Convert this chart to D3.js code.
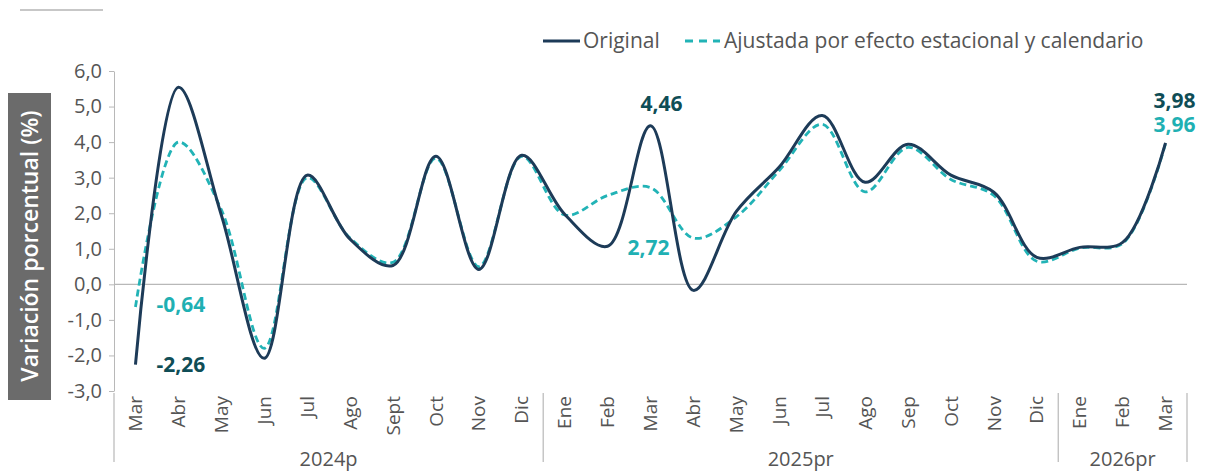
<!DOCTYPE html>
<html>
<head>
<meta charset="utf-8">
<script src="https://cdn.jsdelivr.net/npm/d3@7"></script>
<style>
  body { margin: 0; background: #fff; }
  svg { font-family: "Open Sans", sans-serif; }
</style>
</head>
<body>
<svg id="chart" width="1206" height="472"></svg>
<script>
// meses de marzo 2024 a marzo 2026
const meses = ['Mar','Abr','May','Jun','Jul','Ago','Sept','Oct','Nov','Dic',
  'Ene','Feb','Mar','Abr','May','Jun','Jul','Ago','Sep','Oct','Nov','Dic',
  'Ene','Feb','Mar'];
const anios = ['2024p', '2025pr', '2026pr'];
const mesesPorAnio = [10, 12, 3];

const original = [-2.26, 5.54, 1.95, -2.08, 3.07, 1.27, 0.53, 3.6, 0.42, 3.63,
  1.97, 1.07, 4.46, -0.17, 2.05, 3.3, 4.75, 2.87, 3.94, 3.07, 2.59, 0.76,
  1.04, 1.18, 3.98];
const ajustada = [-0.64, 4.0, 2.1, -1.8, 3.0, 1.3, 0.62, 3.55, 0.5, 3.6,
  1.95, 2.5, 2.72, 1.3, 1.9, 3.2, 4.5, 2.6, 3.85, 2.95, 2.5, 0.65,
  1.02, 1.15, 3.96];

const yTicks = [-3, -2, -1, 0, 1, 2, 3, 4, 5, 6];

const colorOrig = '#1d3b58';
const colorAjus = '#22b3b6';
const colorEtiqOrig = '#0f4d56';
const colorEtiqAjus = '#1fb0b3';
const gris = '#555';

const coma = (s) => s.replace('.', ',').replace('\u2212', '-');
const fmt = (v) => coma(d3.format('.2f')(v));
const fmt1 = (v) => coma(d3.format('.1f')(v));

const svg = d3.select('#chart');

const x = d3.scaleBand()
  .domain(d3.range(meses.length))
  .range([114, 1187]);

const y = d3.scaleLinear()
  .domain([-3, 6])
  .range([391, 71]);

const cx = (i) => x(i) + x.bandwidth() / 2;

// linea decorativa arriba a la izquierda
svg.append('line')
  .attr('x1', 20).attr('x2', 103)
  .attr('y1', 10).attr('y2', 10)
  .attr('stroke', '#b5b5b5')
  .attr('stroke-width', 1.5);

// eje y
const yAxis = svg.append('g')
  .attr('transform', 'translate(114,0)')
  .call(d3.axisLeft(y).tickValues(yTicks).tickSize(5).tickSizeOuter(0).tickFormat(fmt1));

yAxis.select('.domain').attr('stroke', '#b8b8b8');
yAxis.selectAll('.tick line').attr('stroke', '#b8b8b8');
yAxis.selectAll('.tick text')
  .attr('x', -12)
  .attr('fill', gris)
  .style('font-size', '20px')
  .style('font-family', '"Open Sans", sans-serif');

// titulo eje y
svg.append('rect')
  .attr('x', 8).attr('y', 93)
  .attr('width', 43).attr('height', 307)
  .attr('fill', '#6b6b6b');

svg.append('text')
  .attr('transform', 'translate(30,246) rotate(-90)')
  .attr('text-anchor', 'middle')
  .attr('dy', '0.35em')
  .attr('fill', '#fff')
  .style('font-size', '23px')
  .style('font-weight', 600)
  .text('Variación porcentual (%)');

// linea del cero
svg.append('line')
  .attr('x1', x.range()[0]).attr('x2', x.range()[1])
  .attr('y1', y(0)).attr('y2', y(0))
  .attr('stroke', '#b8b8b8')
  .attr('stroke-width', 1.2);

// etiquetas de meses
svg.append('g')
  .selectAll('text')
  .data(meses)
  .enter()
  .append('text')
  .attr('transform', (d, i) => 'translate(' + cx(i) + ',396) rotate(-90)')
  .attr('text-anchor', 'end')
  .attr('dy', '0.35em')
  .attr('fill', gris)
  .style('font-size', '19px')
  .text((d) => d);

// separadores de anios
const cortes = [0];
mesesPorAnio.forEach((n, k) => cortes.push(cortes[k] + n));
const borde = (c) => c < meses.length ? x(c) : x.range()[1];

svg.append('g')
  .selectAll('line')
  .data(cortes)
  .enter()
  .append('line')
  .attr('x1', borde)
  .attr('x2', borde)
  .attr('y1', 393).attr('y2', 462)
  .attr('stroke', '#b8b8b8')
  .attr('stroke-width', 1.2);

svg.append('g')
  .selectAll('text')
  .data(anios)
  .enter()
  .append('text')
  .attr('x', (d, k) => (borde(cortes[k]) + borde(cortes[k + 1])) / 2)
  .attr('y', 466)
  .attr('text-anchor', 'middle')
  .attr('fill', gris)
  .style('font-size', '20px')
  .text((d) => d);

// lineas
const linea = d3.line()
  .x((d, i) => cx(i))
  .y((d) => y(d))
  .curve(d3.curveCatmullRom.alpha(0.5));

svg.append('path')
  .datum(ajustada)
  .attr('d', linea)
  .attr('fill', 'none')
  .attr('stroke', colorAjus)
  .attr('stroke-width', 2.8)
  .attr('stroke-dasharray', '7,4');

svg.append('path')
  .datum(original)
  .attr('d', linea)
  .attr('fill', 'none')
  .attr('stroke', colorOrig)
  .attr('stroke-width', 3);

// etiquetas de datos
const last = meses.length - 1;
const etiquetas = [
  { v: ajustada[0], px: cx(0) + 21, py: y(ajustada[0]) + 5, c: colorEtiqAjus, a: 'start' },
  { v: original[0], px: cx(0) + 21, py: y(original[0]) + 7, c: colorEtiqOrig, a: 'start' },
  { v: original[12], px: cx(12) + 11, py: y(original[12]) - 15, c: colorEtiqOrig, a: 'middle' },
  { v: ajustada[12], px: cx(12) - 2, py: y(ajustada[12]) + 67, c: colorEtiqAjus, a: 'middle' },
  { v: original[last], px: cx(last) + 9, py: y(original[last]) - 35, c: colorEtiqOrig, a: 'middle' },
  { v: ajustada[last], px: cx(last) + 9, py: y(ajustada[last]) - 12, c: colorEtiqAjus, a: 'middle' }
];

svg.append('g')
  .selectAll('text')
  .data(etiquetas)
  .enter()
  .append('text')
  .attr('x', (d) => d.px)
  .attr('y', (d) => d.py)
  .attr('text-anchor', (d) => d.a)
  .attr('fill', (d) => d.c)
  .style('font-size', '21px')
  .style('font-weight', 700)
  .text((d) => fmt(d.v));

// leyenda
const leyenda = svg.append('g').attr('transform', 'translate(543,41)');

leyenda.append('line')
  .attr('x1', 0).attr('x2', 37)
  .attr('stroke', colorOrig)
  .attr('stroke-width', 3);

leyenda.append('text')
  .attr('x', 40).attr('dy', '0.35em')
  .attr('fill', gris)
  .style('font-size', '21px')
  .text('Original');

leyenda.append('line')
  .attr('x1', 142).attr('x2', 177)
  .attr('stroke', colorAjus)
  .attr('stroke-width', 3)
  .attr('stroke-dasharray', '8,6');

leyenda.append('text')
  .attr('x', 181).attr('dy', '0.35em')
  .attr('fill', gris)
  .style('font-size', '21px')
  .text('Ajustada por efecto estacional y calendario');
</script>
</body>
</html>
